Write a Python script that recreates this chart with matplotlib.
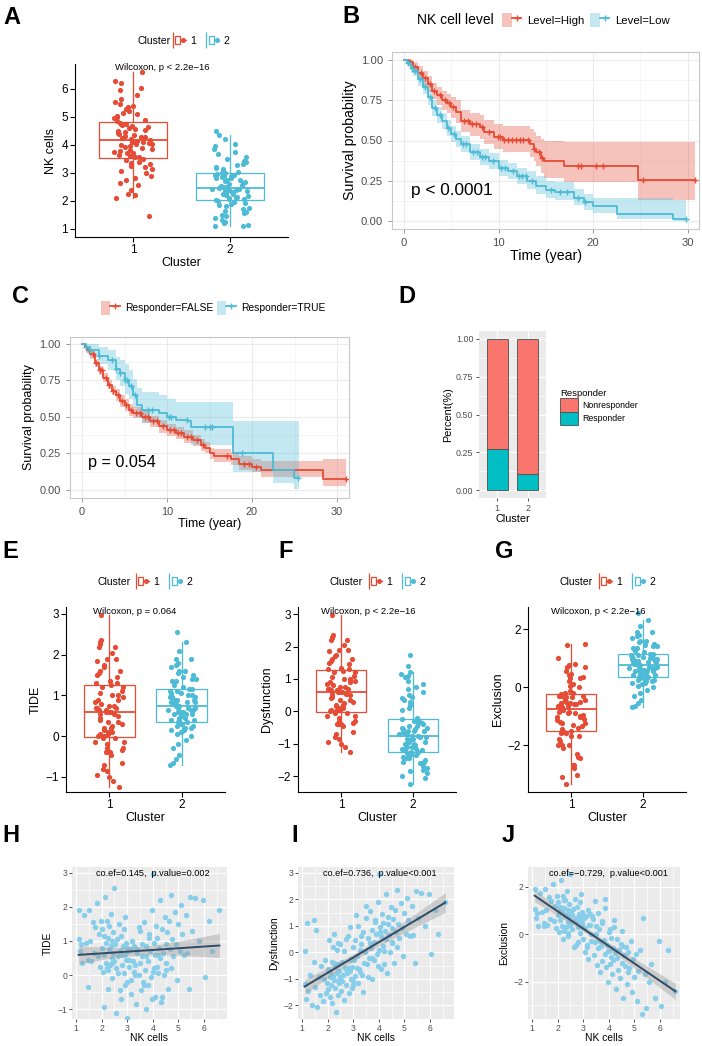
import numpy as np
import matplotlib
matplotlib.use("Agg")
import matplotlib.pyplot as plt
from matplotlib.lines import Line2D
from matplotlib.patches import Patch
from matplotlib.legend_handler import HandlerTuple

plt.rcParams["font.family"] = ["Liberation Sans", "DejaVu Sans"]

# ---------------- data ----------------
clusters = ["1", "2"]

# per patient values, cluster 1 (NK high)
nk_c1 = [1.45, 2.1, 2.2, 2.25, 2.4, 2.55, 2.65, 2.75, 2.8, 2.9,
         3.0, 3.05, 3.15, 3.2, 3.25, 3.3, 3.35, 3.4, 3.45, 3.5,
         3.55, 3.58, 3.62, 3.65, 3.7, 3.72, 3.75, 3.8, 3.83, 3.86,
         3.9, 3.93, 3.96, 4.0, 4.02, 4.05, 4.08, 4.1, 4.12, 4.15,
         4.18, 4.2, 4.24, 4.27, 4.3, 4.33, 4.36, 4.4, 4.43, 4.46,
         4.5, 4.53, 4.56, 4.6, 4.63, 4.66, 4.7, 4.73, 4.76, 4.8,
         4.85, 4.9, 4.95, 5.0, 5.05, 5.1, 5.15, 5.2, 5.28, 5.35,
         5.4, 5.45, 5.55, 5.65, 5.8, 5.95, 6.05, 6.2, 6.3, 6.6]
dys_c1 = [-0.35, -0.95, 0.2, -0.4, 0.35, -1.1, 0.05, -0.7, 0.6, -0.3,
          -1.25, 0.45, -0.15, 1.0, 0.1, 0.3, -0.85, 0.75, 0.0, 1.3,
          -0.45, 0.55, -0.2, 1.55, 0.15, -1.0, 0.85, 0.4, -0.3, 1.2,
          0.7, -0.05, 1.9, 2.97, 0.1, 0.95, -0.65, 0.6, 1.45, 0.25,
          1.1, 0.05, 0.8, 2.2, 0.5, -0.8, 1.35, 0.65, 0.0, 1.7,
          0.9, 0.35, 1.25, -0.4, 1.6, 0.75, 2.35, 0.2, 1.05, 0.55,
          1.85, 0.9, -0.15, 1.5, 0.7, 2.05, 1.2, 0.6, 1.75, 0.65,
          -0.4, 2.3, 1.3, 2.25, 1.0, 2.2, -0.05, 1.6, 0.7, 1.9]
excl_c1 = [0.35, 1.0, -0.2, 1.45, 0.05, 0.8, -0.55, 0.55, -0.35, 0.7,
           0.3, -0.75, -0.45, -1.05, 0.4, -0.3, 0.75, -0.9, -0.35, 0.0,
           -1.3, -0.6, 0.2, -1.6, -0.5, 0.45, -1.15, -0.25, -0.85, 1.5,
           -1.4, -0.45, -2.0, -0.7, 0.1, -1.25, -0.95, -0.15, -1.7, -0.6,
           -1.1, 0.3, -0.8, -2.3, -1.0, -0.2, -1.5, -0.65, -1.85, -0.4,
           -1.2, -0.5, -2.7, -0.9, -1.35, -0.55, -2.1, -1.6, -0.75, -1.45,
           -0.3, -2.45, -1.05, -1.8, -0.85, -2.8, -1.55, -0.65, -3.35, 0.7,
           -1.7, -3.1, -2.0, -1.25, -2.7, -0.3, -3.05, -2.0, -0.65, -2.4]

# per patient values, cluster 2 (NK low)
nk_c2 = [1.1, 1.12, 1.15, 1.2, 1.25, 1.3, 1.38, 1.45, 1.5, 1.55,
         1.6, 1.65, 1.7, 1.75, 1.8, 1.85, 1.9, 1.93, 1.97, 2.0,
         2.02, 2.05, 2.08, 2.1, 2.12, 2.15, 2.18, 2.2, 2.23, 2.25,
         2.28, 2.3, 2.32, 2.35, 2.37, 2.39, 2.4, 2.42, 2.44, 2.45,
         2.48, 2.5, 2.53, 2.56, 2.6, 2.63, 2.66, 2.7, 2.73, 2.76,
         2.8, 2.83, 2.86, 2.88, 2.9, 2.92, 2.94, 2.96, 2.98, 3.0,
         3.03, 3.06, 3.1, 3.14, 3.18, 3.22, 3.27, 3.32, 3.38, 3.44,
         3.5, 3.58, 3.66, 3.75, 3.85, 3.95, 4.05, 4.2, 4.35, 4.5]
dys_c2 = [0.05, -1.2, -1.75, 1.1, -1.45, -0.85, -2.0, 1.2, -1.3, 0.85,
          -2.05, -0.95, -1.6, -0.5, -1.85, -1.0, -0.3, -1.55, -1.15, -0.65,
          -1.4, 0.45, -1.7, -0.75, -1.25, -0.35, -1.9, -0.9, -1.05, 0.7,
          -1.35, -0.55, -2.25, -0.8, 0.1, -1.1, -0.45, -1.6, -0.7, -1.15,
          0.3, -0.95, -1.45, -0.35, -0.85, -1.8, -0.6, 0.5, -1.25, -0.8,
          -0.6, -1.55, -0.7, 0.95, -1.0, -0.25, -1.35, -0.55, 0.2, -1.1,
          -0.3, -0.9, 1.4, -0.6, -1.15, -0.65, -0.75, 0.6, -1.5, -0.4,
          1.75, -0.95, 0.35, -0.2, 1.15, -0.5, 0.75, -0.45, 1.05, 0.4]
excl_c2 = [1.05, 1.9, 0.7, 0.9, 0.35, 1.75, 0.95, 0.45, 1.9, 1.0,
           0.4, 1.55, 0.65, 1.4, 2.1, 0.55, 1.2, 0.25, 1.6, 0.8,
           1.35, 0.1, 1.15, 0.6, 2.3, 0.35, 0.95, 1.6, 0.15, 1.1,
           0.75, 1.45, 0.3, 0.85, 1.8, 0.5, -0.1, 1.0, 0.65, 1.25,
           0.4, 2.55, 0.9, 0.2, 1.05, 0.55, 1.5, 0.7, -0.45, 1.15,
           0.3, 0.85, 1.35, 0.05, 0.6, 1.7, 0.45, 0.95, -0.2, 0.8,
           0.7, 0.25, 0.75, -0.55, 1.0, 0.4, 0.85, 0.0, 0.65, 1.4,
           0.35, 0.9, -0.3, 0.55, 1.1, -0.7, 0.2, 0.6, -0.65, 0.15]

# TIDE score: Dysfunction in cluster 1, Exclusion in cluster 2
tide_c1 = dys_c1
tide_c2 = excl_c2

# Kaplan-Meier, panel B (NK cell level)
km_high_t = [0, 0.5, 1, 1.5, 2, 2.5, 3, 3.5, 4, 4.5, 5, 5.5, 6, 7, 8, 8.5, 9.5, 10.5,
             13.3, 13.7, 14.0, 14.5, 14.8, 16.9, 24.8]
km_high_s = [1.0, 0.985, 0.955, 0.92, 0.89, 0.85, 0.81, 0.78, 0.75, 0.73, 0.71, 0.68, 0.62,
             0.60, 0.585, 0.55, 0.52, 0.505, 0.48, 0.45, 0.43, 0.39, 0.37, 0.34, 0.255]
km_high_lo = [1.0, 0.96, 0.92, 0.88, 0.84, 0.80, 0.76, 0.72, 0.69, 0.67, 0.64, 0.61, 0.55,
              0.53, 0.51, 0.48, 0.45, 0.43, 0.40, 0.37, 0.34, 0.30, 0.27, 0.245, 0.13]
km_high_hi = [1.0, 1.0, 0.99, 0.96, 0.93, 0.90, 0.86, 0.83, 0.81, 0.79, 0.77, 0.75, 0.69,
              0.67, 0.66, 0.63, 0.60, 0.59, 0.57, 0.55, 0.53, 0.51, 0.50, 0.49, 0.49]
km_high_cens = [0.6, 1.2, 1.8, 2.2, 2.7, 3.2, 3.8, 4.3, 4.8, 5.2, 6.3, 6.8, 7.2, 7.6, 8.2,
                9.0, 9.9, 10.2, 10.6, 11.0, 11.4, 11.8, 12.3, 12.6, 13.1, 13.8, 14.3, 14.6,
                18.4, 18.7, 20.3, 21.0, 25.3, 30.8]
km_high_end = 30.8

km_low_t = [0, 0.3, 0.7, 1.0, 1.5, 2.0, 2.5, 3.0, 3.5, 4.0, 4.5, 5.0, 5.5, 6.0, 7.0, 8.0,
            9.0, 10.0, 11.0, 12.0, 13.0, 14.0, 15.0, 16.0, 18.0, 19.0, 20.0, 22.5, 28.5]
km_low_s = [1.0, 0.98, 0.95, 0.93, 0.88, 0.83, 0.77, 0.70, 0.66, 0.62, 0.58, 0.54, 0.51,
            0.48, 0.43, 0.40, 0.37, 0.33, 0.31, 0.28, 0.25, 0.22, 0.19, 0.18, 0.145, 0.115,
            0.095, 0.045, 0.015]
km_low_lo = [1.0, 0.96, 0.92, 0.90, 0.84, 0.79, 0.72, 0.65, 0.61, 0.57, 0.53, 0.49, 0.46,
             0.43, 0.38, 0.35, 0.32, 0.28, 0.26, 0.23, 0.20, 0.17, 0.14, 0.13, 0.10, 0.07,
             0.05, 0.015, 0.0]
km_low_hi = [1.0, 1.0, 0.98, 0.96, 0.92, 0.87, 0.82, 0.75, 0.71, 0.67, 0.63, 0.59, 0.56,
             0.53, 0.48, 0.45, 0.42, 0.38, 0.36, 0.33, 0.31, 0.28, 0.25, 0.24, 0.20, 0.17,
             0.145, 0.14, 0.13]
km_low_cens = [0.4, 0.8, 1.2, 1.7, 2.2, 2.8, 3.3, 3.8, 4.6, 5.3, 6.2, 6.6, 7.3, 7.7, 8.3,
               8.6, 9.4, 10.3, 10.7, 11.5, 12.2, 12.5, 12.9, 13.5, 15.5, 16.5, 17.2, 18.4,
               19.1, 29.8]
km_low_end = 29.8

# Kaplan-Meier, panel C (Responder)
km_false_t = [0, 0.3, 0.6, 1.0, 1.5, 2.0, 2.5, 3.0, 3.5, 4.0, 4.5, 5.0, 5.5, 6.0, 7.0, 8.0,
              9.0, 10.0, 11.0, 12.0, 13.0, 14.0, 14.5, 15.0, 15.5, 17.5, 18.5, 20.0, 21.0, 28.3]
km_false_s = [1.0, 0.98, 0.96, 0.93, 0.87, 0.82, 0.77, 0.72, 0.68, 0.65, 0.61, 0.58, 0.55,
              0.53, 0.50, 0.47, 0.435, 0.41, 0.39, 0.365, 0.34, 0.31, 0.29, 0.25, 0.23, 0.21,
              0.18, 0.16, 0.135, 0.075]
km_false_lo = [1.0, 0.96, 0.94, 0.90, 0.84, 0.79, 0.74, 0.69, 0.65, 0.61, 0.57, 0.54, 0.51,
               0.49, 0.46, 0.43, 0.39, 0.37, 0.35, 0.32, 0.30, 0.27, 0.25, 0.21, 0.19, 0.17,
               0.14, 0.12, 0.09, 0.025]
km_false_hi = [1.0, 1.0, 0.98, 0.96, 0.90, 0.85, 0.80, 0.75, 0.71, 0.69, 0.65, 0.62, 0.59,
               0.57, 0.54, 0.51, 0.48, 0.45, 0.43, 0.41, 0.38, 0.35, 0.33, 0.29, 0.28, 0.26,
               0.23, 0.21, 0.20, 0.21]
km_false_cens = [0.8, 1.3, 1.7, 2.1, 2.4, 2.8, 3.2, 3.6, 4.2, 4.7, 5.2, 5.8, 6.4, 6.8, 7.4,
                 7.8, 8.4, 8.8, 9.5, 10.4, 10.8, 11.3, 11.7, 12.4, 12.8, 13.5, 14.2, 17.0,
                 19.0, 19.6, 20.5, 31.0]
km_false_end = 31.0

km_true_t = [0, 0.5, 1.0, 2.0, 3.0, 4.0, 4.5, 5.0, 5.5, 6.0, 6.5, 7.0, 9.0, 10.0, 11.0,
             12.5, 12.8, 17.8, 22.5, 24.9]
km_true_s = [1.0, 0.98, 0.96, 0.92, 0.89, 0.83, 0.80, 0.75, 0.71, 0.65, 0.58, 0.55, 0.53,
             0.50, 0.48, 0.47, 0.43, 0.25, 0.14, 0.08]
km_true_lo = [1.0, 0.94, 0.91, 0.86, 0.82, 0.75, 0.71, 0.66, 0.62, 0.56, 0.49, 0.46, 0.44,
              0.41, 0.38, 0.37, 0.31, 0.12, 0.045, 0.01]
km_true_hi = [1.0, 1.0, 1.0, 0.98, 0.96, 0.91, 0.89, 0.86, 0.82, 0.76, 0.70, 0.67, 0.65,
              0.62, 0.60, 0.60, 0.60, 0.47, 0.47, 0.47]
km_true_cens = [0.5, 1.0, 2.0, 3.5, 4.0, 4.5, 5.0, 5.3, 5.8, 6.2, 7.8, 8.2, 10.2, 10.5,
                12.4, 14.5, 15.0, 15.3, 18.8, 25.4]
km_true_end = 25.5

# panel D: share of responders per cluster
responder_share = [0.27, 0.105]
nonresponder_share = [0.73, 0.895]

RED = "#E64B35"
BLUE = "#4DBBD5"
SKY = "#87CEEB"
GREY30 = "#4D4D4D"

W, H = 702, 1046
fig = plt.figure(figsize=(W / 100, H / 100), dpi=100)


def add_ax(l, t, r, b):
    return fig.add_axes([l / W, 1 - b / H, (r - l) / W, (b - t) / H])


def ftext(x, y, s, **kw):
    fig.text(x / W, 1 - y / H, s, **kw)


def jitter(n, seed):
    i = np.arange(n) + 1.0
    return ((np.sin((i + seed * 97.3) * 12.9898) * 43758.5453) % 1 - 0.5) * 0.4


def cluster_legend(x_title, x_keys, y, fs=7.5):
    ftext(x_title, y, "Cluster", ha="left", va="center", fontsize=fs)
    handles = []
    for c in (RED, BLUE):
        handles.append((Line2D([], [], ls="none", marker="|", ms=11, mew=0.9, color=c),
                        Patch(fc="white", ec=c, lw=0.9),
                        Line2D([], [], color=c, lw=0.9, marker="o", ms=2.6)))
    fig.legend(handles, clusters, loc="center left", bbox_to_anchor=(x_keys / W, 1 - y / H),
               ncol=2, frameon=False, fontsize=fs, handlelength=1.5, handleheight=0.8,
               handletextpad=0.45, columnspacing=0.7, borderpad=0, borderaxespad=0,
               handler_map={tuple: HandlerTuple(ndivide=None, pad=0)})


def box_panel(ax, g1, g2, ylabel, ylim, yticks, note, note_xy):
    groups = [np.array(g1), np.array(g2)]
    cols = [RED, BLUE]
    bp = ax.boxplot(groups, positions=[1, 2], widths=0.7, showfliers=False,
                    showcaps=False, patch_artist=True)
    for k, c in enumerate(cols):
        bp["boxes"][k].set(facecolor="white", edgecolor=c, linewidth=0.9)
        bp["medians"][k].set(color=c, linewidth=1.3)
        for w in bp["whiskers"][2 * k:2 * k + 2]:
            w.set(color=c, linewidth=0.9)
    for k, (vals, c) in enumerate(zip(groups, cols)):
        ax.scatter(k + 1 + jitter(len(vals), k), vals, s=14, color=c, lw=0, zorder=3)
    ax.set_xlim(0.4, 2.6)
    ax.set_ylim(*ylim)
    ax.set_yticks(yticks)
    ax.set_xticks([1, 2])
    ax.set_xticklabels(clusters)
    for s in ("top", "right"):
        ax.spines[s].set_visible(False)
    for s in ("left", "bottom"):
        ax.spines[s].set_linewidth(0.8)
    ax.tick_params(length=3.5, width=0.8, labelsize=8.5, colors="black", pad=1.5)
    ax.set_ylabel(ylabel, fontsize=9, labelpad=3)
    ax.set_xlabel("Cluster", fontsize=9, labelpad=0.5)
    ax.text(note_xy[0], note_xy[1], note, ha="left", va="center", fontsize=6.8)


def km_panel(ax, curves, xlim, ylim, p_text, p_xy, p_fs, tick_fs, lab_fs):
    for t, s, lo, hi, cens, end, c in curves:
        tt = np.r_[t, end]
        ss = np.r_[s, s[-1]]
        ax.fill_between(tt, np.r_[lo, lo[-1]], np.r_[hi, hi[-1]], step="post",
                        color=c, alpha=0.33, lw=0)
        ax.step(tt, ss, where="post", color=c, lw=1.3)
        idx = np.searchsorted(t, cens, side="right") - 1
        ax.plot(cens, np.array(s)[idx], ls="none", marker="+", ms=5, mew=1.0, color=c)
    ax.set_xlim(*xlim)
    ax.set_ylim(*ylim)
    ax.set_xticks([0, 10, 20, 30])
    ax.set_xticks([5, 15, 25], minor=True)
    ax.set_yticks([0, 0.25, 0.5, 0.75, 1.0])
    ax.set_yticklabels(["0.00", "0.25", "0.50", "0.75", "1.00"])
    ax.set_yticks([0.125, 0.375, 0.625, 0.875], minor=True)
    ax.grid(which="major", color="#EBEBEB", lw=0.8)
    ax.grid(which="minor", color="#F2F2F2", lw=0.5)
    ax.set_axisbelow(True)
    for s in ax.spines.values():
        s.set_color("#C8C8C8")
        s.set_linewidth(0.8)
    ax.tick_params(which="major", length=3, width=0.6, color="#888888",
                   labelsize=tick_fs, labelcolor=GREY30)
    ax.tick_params(which="minor", length=0)
    ax.set_ylabel("Survival probability", fontsize=lab_fs, labelpad=3)
    ax.set_xlabel("Time (year)", fontsize=lab_fs, labelpad=1)
    ax.text(p_xy[0], p_xy[1], p_text, ha="left", va="center", fontsize=p_fs)


def scatter_panel(ax, x, y, ylabel, xlim, ylim, yticks, yminor, note, note_xy):
    x = np.array(x)
    y = np.array(y)
    ax.set_facecolor("#EBEBEB")
    ax.scatter(x, y, s=15, color=SKY, lw=0, zorder=2)
    slope, icpt = np.polyfit(x, y, 1)
    xs = np.linspace(x.min(), x.max(), 100)
    fit = icpt + slope * xs
    resid = y - (icpt + slope * x)
    se_r = np.sqrt(np.sum(resid ** 2) / (len(x) - 2))
    se = se_r * np.sqrt(1 / len(x) + (xs - x.mean()) ** 2 / np.sum((x - x.mean()) ** 2))
    ax.fill_between(xs, fit - 1.97 * se, fit + 1.97 * se, color="#999999", alpha=0.4,
                    lw=0, zorder=3)
    ax.plot(xs, fit, color="#2F4B66", lw=1.4, zorder=4)
    ax.set_xlim(*xlim)
    ax.set_ylim(*ylim)
    ax.set_xticks([1, 2, 3, 4, 5, 6])
    ax.set_xticks([1.5, 2.5, 3.5, 4.5, 5.5, 6.5], minor=True)
    ax.set_yticks(yticks)
    ax.set_yticks(yminor, minor=True)
    ax.grid(which="major", color="white", lw=0.9)
    ax.grid(which="minor", color="white", lw=0.45)
    ax.set_axisbelow(True)
    for s in ax.spines.values():
        s.set_visible(False)
    ax.tick_params(which="major", length=2.5, width=0.6, color="#333333",
                   labelsize=6.2, labelcolor=GREY30, pad=1)
    ax.tick_params(which="minor", length=0)
    ax.set_ylabel(ylabel, fontsize=7.4, labelpad=3)
    ax.set_xlabel("NK cells", fontsize=7.4, labelpad=0)
    ax.text(note_xy[0], note_xy[1], note, ha="center", va="center", fontsize=6.6)


# ---------------- panel A ----------------
axA = add_ax(75, 64, 288, 237)
box_panel(axA, nk_c1, nk_c2, "NK cells", (0.71, 6.89), [1, 2, 3, 4, 5, 6],
          "Wilcoxon, p < 2.2e\u221216", (0.81, 6.75))
cluster_legend(137, 170, 41)

# ---------------- panel B ----------------
axB = add_ax(392, 52, 699, 229)
km_panel(axB,
         [(km_high_t, km_high_s, km_high_lo, km_high_hi, km_high_cens, km_high_end, RED),
          (km_low_t, km_low_s, km_low_lo, km_low_hi, km_low_cens, km_low_end, BLUE)],
         (-1.27, 31.2), (-0.05, 1.05), "p < 0.0001", (0.75, 0.19), 12.4, 8.1, 10.2)
ftext(417, 20, "NK cell level", ha="left", va="center", fontsize=10)
hB = [(Patch(fc=c, alpha=0.33, ec="none"),
       Line2D([], [], color=c, lw=1.3, marker="+", ms=5, mew=1.0)) for c in (RED, BLUE)]
fig.legend(hB, ["Level=High", "Level=Low"], loc="center left",
           bbox_to_anchor=(502 / W, 1 - 20 / H), ncol=2, frameon=False, fontsize=8.2,
           handlelength=1.7, handleheight=1.6, handletextpad=0.5, columnspacing=0.5,
           borderpad=0, borderaxespad=0,
           handler_map={tuple: HandlerTuple(ndivide=None, pad=0)})

# ---------------- panel C ----------------
axC = add_ax(70, 337, 349, 498)
km_panel(axC,
         [(km_false_t, km_false_s, km_false_lo, km_false_hi, km_false_cens, km_false_end, RED),
          (km_true_t, km_true_s, km_true_lo, km_true_hi, km_true_cens, km_true_end, BLUE)],
         (-1.41, 31.4), (-0.055, 1.048), "p = 0.054", (0.7, 0.185), 11.6, 7.9, 9.0)
hC = [(Patch(fc=c, alpha=0.33, ec="none"),
       Line2D([], [], color=c, lw=1.3, marker="+", ms=5, mew=1.0)) for c in (RED, BLUE)]
fig.legend(hC, ["Responder=FALSE", "Responder=TRUE"], loc="center left",
           bbox_to_anchor=(101 / W, 1 - 308 / H), ncol=2, frameon=False, fontsize=7.4,
           handlelength=1.8, handleheight=1.7, handletextpad=0.5, columnspacing=0.4,
           borderpad=0, borderaxespad=0,
           handler_map={tuple: HandlerTuple(ndivide=None, pad=0)})

# ---------------- panel D ----------------
axD = add_ax(479, 331, 546, 498)
xpos = np.arange(1, len(clusters) + 1)
axD.set_facecolor("#EBEBEB")
axD.bar(xpos, responder_share, width=0.7, color="#00BFC4", edgecolor="#4D4D4D", lw=0.6,
        label="Responder", zorder=2)
axD.bar(xpos, nonresponder_share, bottom=responder_share, width=0.7, color="#F8766D",
        edgecolor="#4D4D4D", lw=0.6, label="Nonresponder", zorder=2)
axD.set_xlim(0.4, 2.6)
axD.set_ylim(-0.05, 1.05)
axD.set_xticks(xpos)
axD.set_xticklabels(clusters)
axD.set_yticks([0, 0.25, 0.5, 0.75, 1.0])
axD.set_yticklabels(["0.00", "0.25", "0.50", "0.75", "1.00"])
axD.set_yticks([0.125, 0.375, 0.625, 0.875], minor=True)
axD.grid(which="major", color="white", lw=0.9)
axD.grid(which="minor", color="white", lw=0.45)
axD.set_axisbelow(True)
for s in axD.spines.values():
    s.set_visible(False)
axD.tick_params(which="major", length=2.5, width=0.6, color="#333333", labelsize=6.4,
                labelcolor=GREY30, pad=1.5)
axD.tick_params(which="minor", length=0)
axD.set_ylabel("Percent(%)", fontsize=7.8, labelpad=2)
axD.set_xlabel("Cluster", fontsize=7.8, labelpad=1)
hD = [Patch(fc="#F8766D", ec="#4D4D4D", lw=0.6), Patch(fc="#00BFC4", ec="#4D4D4D", lw=0.6)]
fig.legend(hD, ["Nonresponder", "Responder"], loc="upper left",
           bbox_to_anchor=(560 / W, 1 - 389 / H), frameon=False, fontsize=6.3,
           title="Responder", title_fontsize=6.8, alignment="left",
           handlelength=2.0, handleheight=2.0, handletextpad=0.5, labelspacing=0.0,
           borderpad=0, borderaxespad=0)

# ---------------- panels E, F, G ----------------
axE = add_ax(66, 607, 225, 792)
box_panel(axE, tide_c1, tide_c2, "TIDE", (-1.37, 3.17), [-1, 0, 1, 2, 3],
          "Wilcoxon, p = 0.064", (0.77, 3.07))
cluster_legend(97, 133, 582)

axF = add_ax(298, 607, 456, 792)
box_panel(axF, dys_c1, dys_c2, "Dysfunction", (-2.49, 3.22), [-2, -1, 0, 1, 2, 3],
          "Wilcoxon, p < 2.2e\u221216", (0.715, 3.09))
cluster_legend(330, 366, 582)

axG = add_ax(528, 607, 686, 792)
box_panel(axG, excl_c1, excl_c2, "Exclusion", (-3.62, 2.76), [-2, 0, 2],
          "Wilcoxon, p < 2.2e\u221216", (0.715, 2.62))
cluster_legend(560, 596, 582)

# ---------------- panels H, I, J ----------------
nk_all = nk_c1 + nk_c2
axH = add_ax(72, 867, 227, 1019)
scatter_panel(axH, nk_all, tide_c1 + tide_c2, "TIDE", (0.84, 6.9), (-1.29, 3.17),
              [-1, 0, 1, 2, 3], [-0.5, 0.5, 1.5, 2.5],
              "co.ef=0.145,  p.value=0.002", (3.99, 2.97))
axI = add_ax(298, 867, 454, 1019)
scatter_panel(axI, nk_all, dys_c1 + dys_c2, "Dysfunction", (0.84, 6.94), (-2.52, 3.22),
              [-2, -1, 0, 1, 2, 3], [-1.5, -0.5, 0.5, 1.5, 2.5],
              "co.ef=0.736,  p.value<0.001", (4.03, 2.96))
axJ = add_ax(528, 867, 680, 1019)
scatter_panel(axJ, nk_all, excl_c1 + excl_c2, "Exclusion", (0.84, 6.78), (-3.58, 2.83),
              [-2, 0, 2], [-3, -1, 1],
              "co.ef=\u22120.729,  p.value<0.001", (3.99, 2.54))

# ---------------- panel letters ----------------
for letter, x, y in [("A", 3, 24), ("B", 342, 23), ("C", 12, 303), ("D", 398, 303),
                     ("E", 2, 558), ("F", 278, 558), ("G", 495, 558),
                     ("H", 2, 842), ("I", 291, 842), ("J", 502, 842)]:
    ftext(x, y, letter, ha="left", va="baseline", fontsize=17, fontweight="bold")

fig.savefig("out.png", dpi=100)
